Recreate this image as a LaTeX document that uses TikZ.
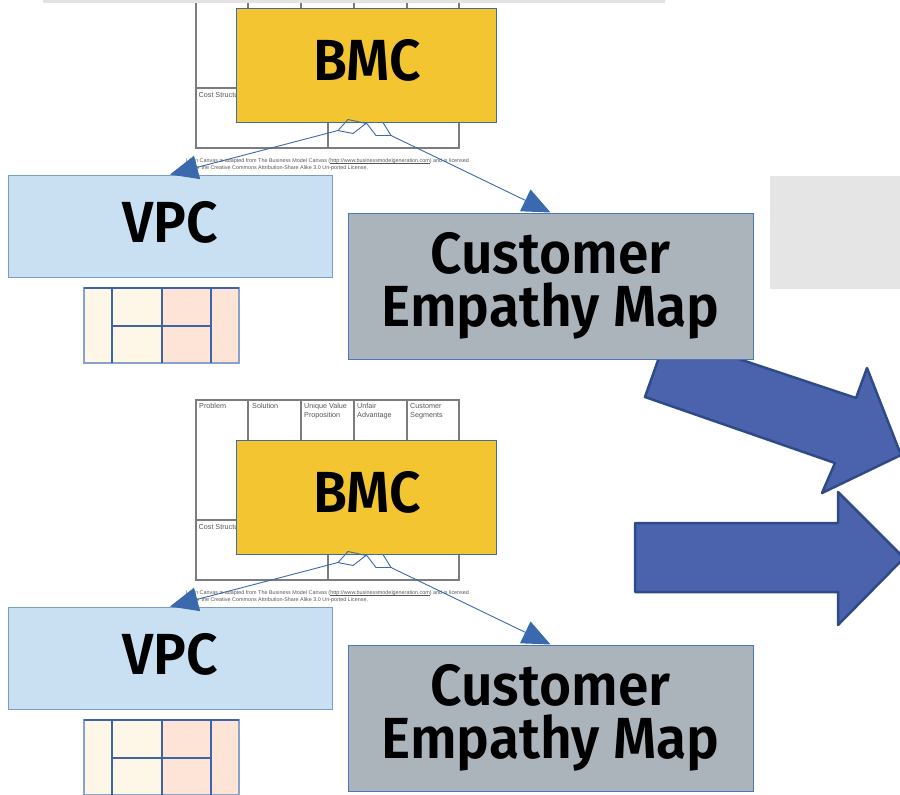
\documentclass[tikz,border=0pt]{standalone}
\usepackage{fontspec}
\setmainfont{Fira Sans}
\newfontfamily\boxfont{Fira Sans SemiBold}[FakeStretch=0.95]
\newfontfamily\canvasfont{Liberation Sans}
\usetikzlibrary{arrows.meta,calc}

% underlined link text with a rule close to the baseline
\newcommand\urlunder[1]{\setbox0\hbox{#1}\rlap{\rule[-0.7pt]{\wd0}{0.3pt}}\box0}

\definecolor{bmcfill}{HTML}{F2C531}
\definecolor{bmcline}{HTML}{3F6DA8}
\definecolor{vpcfill}{HTML}{C9E0F3}
\definecolor{vpcline}{HTML}{7A9CC9}
\definecolor{cemfill}{HTML}{ACB4BB}
\definecolor{cemline}{HTML}{4A78B5}
\definecolor{connblue}{HTML}{3A69AD}
\definecolor{arrowfill}{HTML}{4B63AD}
\definecolor{arrowline}{HTML}{2F4B87}
\definecolor{gridblue}{HTML}{3C64A6}
\definecolor{gridouter}{HTML}{8AA2C8}
\definecolor{cream}{HTML}{FEF7E7}
\definecolor{peach}{HTML}{FDE4D6}
\definecolor{canvasgray}{HTML}{7C7C7C}
\definecolor{labelgray}{HTML}{555555}
\definecolor{panelgray}{HTML}{E5E5E5}
\definecolor{bargray}{HTML}{E3E3E3}

\begin{document}
\begin{tikzpicture}[x=1pt,y=-1pt,
  box/.style={draw, line width=1pt, inner sep=0pt},
  bmcbox/.style={box, fill=bmcfill, draw=bmcline,
    minimum width=260pt, minimum height=114pt},
  vpcbox/.style={box, fill=vpcfill, draw=vpcline,
    minimum width=324pt, minimum height=102pt},
  cembox/.style={box, fill=cemfill, draw=cemline,
    minimum width=405pt, minimum height=146pt},
  boxtext/.style={inner sep=0pt, text=black, align=center,
    font=\boxfont\fontsize{58}{53}\selectfont},
  conn/.style={draw=connblue, line width=0.9pt, line join=miter},
  connarrow/.style={conn, -{Triangle[length=28pt,width=24pt]}},
  bigarrow/.style={fill=arrowfill, draw=arrowline, line width=2.5pt, line join=round},
  gridline/.style={draw=gridblue, line width=1.5pt},
  gridedge/.style={draw=gridouter, line width=2.6pt},
  canvasline/.style={draw=canvasgray, line width=1.1pt},
  canvaslabel/.style={inner sep=0pt, text=labelgray, align=left,
    font=\canvasfont\fontsize{7.2}{8.5}\selectfont},
  footnote/.style={inner sep=0pt, text=labelgray, align=left,
    font=\canvasfont\fontsize{5.4}{6.6}\selectfont},
  leancanvas/.pic={
    \draw[canvasline] (196,-32) rectangle (459,148);
    \foreach \cx in {248,301,354,407} \draw[canvasline] (\cx,-32) -- (\cx,88);
    \draw[canvasline] (196,88) -- (459,88);
    \draw[canvasline] (328,88) -- (328,148);
    \node[canvaslabel, anchor=west] (-cost) at (198.5,95) {Cost Structure};
    \node[footnote, anchor=north west] (-licence) at (186,158.5)
      {Lean Canvas is adapted from The Business Model Canvas (\urlunder{http://www.businessmodelgeneration.com}) and is licensed\\
       under the Creative Commons Attribution-Share Alike 3.0 Un-ported License.};
  },
  vpcgrid/.pic={
    \fill[cream] (84,288) rectangle (162,363);
    \fill[peach] (162,288) rectangle (239,363);
    \draw[gridedge] (84,288) rectangle (239,363);
    \draw[gridline] (84,288) -- (239,288);
    \foreach \gx in {112,162,211} \draw[gridline] (\gx,288) -- (\gx,363);
    \draw[gridline] (112,326) -- (211,326);
  }
]
\useasboundingbox (0,0) rectangle (900,795);
\clip (0,0) rectangle (900,795);

% lean canvas thumbnails behind the BMC boxes
\pic (canvasA) at (0,0) {leancanvas};
\pic (canvasB) at (0,432) {leancanvas};
\node[canvaslabel, anchor=north west] (hdproblem) at (199,403.5) {Problem};
\node[canvaslabel, anchor=north west] (hdsolution) at (252,403.5) {Solution};
\node[canvaslabel, anchor=north west] (hduvp) at (304,403.5) {Unique Value\\Proposition};
\node[canvaslabel, anchor=north west] (hdunfair) at (357,403.5) {Unfair\\Advantage};
\node[canvaslabel, anchor=north west] (hdsegments) at (410,403.5) {Customer\\Segments};
\fill[bargray] (43,0) rectangle (665,2.5);

% grey panel on the right
\fill[panelgray] (770,176) rectangle (905,289);

% big block arrows
\filldraw[bigarrow] (667,335) -- (856,398) -- (867,368) -- (901,455)
  -- (822,493) -- (835,463) -- (645,397) -- cycle;
\filldraw[bigarrow] (635,523) -- (838,523) -- (838,492) -- (904,558)
  -- (838,625) -- (838,592) -- (635,592) -- cycle;

% upper group
\node[bmcbox] (bmc1) at (366,65) {};
\node[boxtext] (bmc1-t) at ($(bmc1)+(1,-4.5)$) {BMC};
\node[vpcbox] (vpc1) at (170,226) {};
\node[boxtext] (vpc1-t) at ($(vpc1)+(0,-4)$) {VPC};
\node[cembox] (cem1) at (550.5,286) {};
\node[boxtext] (cem1-t) at ($(cem1)+(0,0)$) {Customer\\Empathy Map};
\pic (gridA) at (0,0) {vpcgrid};

% lower group
\node[bmcbox] (bmc2) at (366,497) {};
\node[boxtext] (bmc2-t) at ($(bmc2)+(1,-4.5)$) {BMC};
\node[vpcbox] (vpc2) at (170,658) {};
\node[boxtext] (vpc2-t) at ($(vpc2)+(0,-4)$) {VPC};
\node[cembox] (cem2) at (550.5,718) {};
\node[boxtext] (cem2-t) at ($(cem2)+(0,0)$) {Customer\\Empathy Map};
\pic (gridB) at (0,432) {vpcgrid};

% connectors leaving the BMC boxes
\foreach \b/\v/\c in {bmc1/vpc1/cem1, bmc2/vpc2/cem2}{
  \draw[conn] ($(\b.south)+(0,1)$) -- ($(\b.south)+(-18,-3)$) -- ($(\b.south)+(-28,8)$)
    -- ($(\b.south)+(-13,11)$) -- cycle;
  \draw[conn] ($(\b.south)+(0,0)$) -- ($(\b.south)+(10,13)$) -- ($(\b.south)+(25,13)$)
    -- ($(\b.south)+(17,0)$);
  \draw[connarrow] ($(\b.south)+(-28,8)$) -- (\v.north);
  \draw[connarrow] ($(\b.south)+(25,13)$) -- (\c.north);
}
\end{tikzpicture}
\end{document}
